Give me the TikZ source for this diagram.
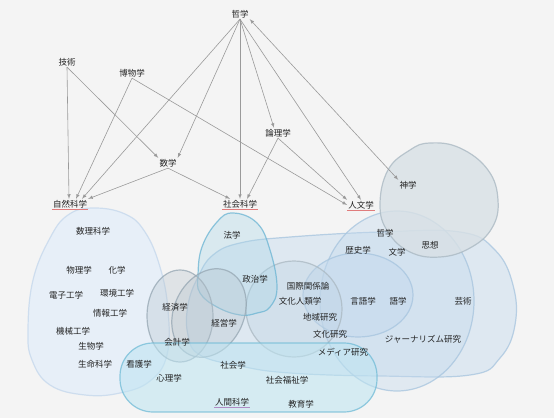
\documentclass[tikz,border=0pt]{standalone}
\usepackage{fontspec}
\setmainfont{Noto Sans CJK JP}

\definecolor{bg}{HTML}{F4F4F4}
\definecolor{txt}{HTML}{222222}
\definecolor{arr}{HTML}{9A9A9A}
\definecolor{ul}{HTML}{E07C7C}
\definecolor{ulp}{HTML}{B08CC4}
\definecolor{natfill}{HTML}{E7EFF8}
\definecolor{natline}{HTML}{C4D7EC}
\definecolor{lawfill}{HTML}{A8D6E8}
\definecolor{lawline}{HTML}{6AB4D3}
\definecolor{ecofill}{HTML}{B8C5CE}
\definecolor{ecoline}{HTML}{95A6B2}
\definecolor{humfill}{HTML}{C4DAEE}
\definecolor{humline}{HTML}{A6C4DE}
\definecolor{thefill}{HTML}{D8E0E5}
\definecolor{theline}{HTML}{A8B7C1}
\definecolor{hsfill}{HTML}{BDE4F1}
\definecolor{hsline}{HTML}{70BBD6}

\tikzset{
  lbl/.style={inner sep=1pt, text=txt, font=\fontsize{8.5}{10}\selectfont},
  edge/.style={->, >=latex, draw=arr, line width=0.6pt},
  blobline/.style={line width=1.2pt, draw opacity=0.75}
}

\begin{document}
\begin{tikzpicture}[x=1pt,y=-1pt]
\useasboundingbox (0,0) rectangle (554,418);
\fill[bg] (0,0) rectangle (554,418);

% regions
\draw[blobline, draw=natline, fill=natfill] plot[smooth cycle, tension=0.7] coordinates
  {(93,208) (125,214) (145,232) (160,267) (168,310) (167,355) (150,381) (120,393)
   (85,395) (50,385) (32,360) (28,330) (33,280) (50,238) (68,215)};
\draw[blobline, draw=humline, fill=humfill, fill opacity=0.45] plot[smooth cycle, tension=0.7] coordinates
  {(198,277) (213,255) (240,243) (290,237) (380,232) (460,232) (495,250) (513,285)
   (515,325) (500,358) (470,375) (380,376) (290,373) (240,366) (200,355) (188,335) (188,305)};
\draw[blobline, draw=humline, fill=humfill, fill opacity=0.4] (397,301) ellipse [x radius=77, y radius=90];
\draw[blobline, draw=humline, fill=humfill, fill opacity=0.5] (358,295) ellipse [x radius=55, y radius=42];
\draw[blobline, draw=ecoline!80, fill=humfill!70!ecofill, fill opacity=0.4] (294,309) ellipse [x radius=48, y radius=48];
\draw[blobline, draw=theline, fill=thefill, fill opacity=0.8] plot[smooth cycle, tension=0.7] coordinates
  {(380,205) (388,170) (410,150) (430,143) (460,148) (488,170) (498,200) (492,228)
   (470,248) (440,257) (410,252) (388,232)};
\draw[blobline, draw=lawline, fill=lawfill, fill opacity=0.35] plot[smooth cycle, tension=0.7] coordinates
  {(233,213) (257,223) (270,250) (277,287) (270,307) (257,313) (240,315) (217,307)
   (200,293) (198,275) (202,247) (217,222)};
\draw[blobline, draw=ecoline, fill=ecofill, fill opacity=0.35] (180,316) ellipse [x radius=33, y radius=46];
\draw[blobline, draw=ecoline, fill=ecofill, fill opacity=0.35, rotate around={-25:(209,313)}] (209,313) ellipse [x radius=35, y radius=46];
\draw[blobline, draw=hsline, fill=hsfill, fill opacity=0.55, rounded corners=33] (120,343) rectangle (377,412);

% graph
\node[lbl] (tetsu) at (240,14) {哲学};
\node[lbl] (gijutsu) at (67,62) {技術};
\node[lbl] (hakubutsu) at (132,73) {博物学};
\node[lbl] (ronri) at (278,133) {論理学};
\node[lbl] (sugaku) at (168,163) {数学};
\node[lbl] (shizen) at (70,204) {自然科学};
\node[lbl] (shakai) at (240,204) {社会科学};
\node[lbl] (jinbun) at (361,205) {人文学};
\node[lbl] (shingaku) at (408,185) {神学};
\draw[ul, line width=0.6pt] (shizen.south west) -- (shizen.south east);
\draw[ul, line width=0.6pt] (shakai.south west) -- (shakai.south east);
\draw[ul, line width=0.6pt] (jinbun.south west) -- (jinbun.south east);

\draw[edge] (gijutsu.south) -- ([xshift=-1pt]shizen.north);
\draw[edge] (gijutsu.south) -- (sugaku.north west);
\draw[edge] (hakubutsu.south) -- ([xshift=6pt]shizen.north);
\draw[edge] (hakubutsu.south) -- (jinbun.west);
\draw[edge] (tetsu.south) -- ([xshift=12pt]shizen.north);
\draw[edge] (tetsu.south) -- (sugaku.north east);
\draw[edge] (tetsu.south) -- (shakai.north);
\draw[edge] (tetsu.south) -- ([xshift=-4pt]ronri.north);
\draw[edge] (tetsu.south) -- (jinbun.north);
\draw[edge, <->] (tetsu.south east) -- (shingaku.north west);
\draw[edge] (sugaku.south) -- (shizen.north east);
\draw[edge] (sugaku.south) -- ([xshift=-10pt]shakai.north);
\draw[edge] (ronri.south) -- ([xshift=7pt]shakai.north);
\draw[edge] (ronri.south) -- (jinbun.north west);

% natural sciences
\node[lbl] (surika) at (93,231) {数理科学};
\node[lbl] (butsuri) at (79,270) {物理学};
\node[lbl] (kagaku) at (117,270) {化学};
\node[lbl] (denshi) at (66,295) {電子工学};
\node[lbl] (kankyo) at (117,293) {環境工学};
\node[lbl] (joho) at (110,313) {情報工学};
\node[lbl] (kikai) at (73,331) {機械工学};
\node[lbl] (seibutsu) at (91,346) {生物学};
\node[lbl] (seimei) at (95,364) {生命科学};
\node[lbl] (kango) at (139,364) {看護学};

% social sciences
\node[lbl] (hogaku) at (232,235) {法学};
\node[lbl] (seiji) at (255,279) {政治学};
\node[lbl] (keizai) at (175,307) {経済学};
\node[lbl] (keiei) at (224,323) {経営学};
\node[lbl] (kaikei) at (177,342) {会計学};
\node[lbl] (shakaigaku) at (233,365) {社会学};
\node[lbl] (shinri) at (169,378) {心理学};
\node[lbl] (fukushi) at (287,380) {社会福祉学};
\node[lbl] (ningen) at (232,402) {人間科学};
\node[lbl] (kyoiku) at (301,404) {教育学};
\draw[ulp, line width=0.6pt] (ningen.south west) -- (ningen.south east);

% humanities
\node[lbl] (tetsu2) at (385,233) {哲学};
\node[lbl] (rekishi) at (358,250) {歴史学};
\node[lbl] (bungaku) at (397,252) {文学};
\node[lbl] (shiso) at (430,245) {思想};
\node[lbl] (kokusai) at (308,286) {国際関係論};
\node[lbl] (jinrui) at (300,301) {文化人類学};
\node[lbl] (gengo) at (363,301) {言語学};
\node[lbl] (gogaku) at (398,301) {語学};
\node[lbl] (geijutsu) at (463,301) {芸術};
\node[lbl] (chiiki) at (320,317) {地域研究};
\node[lbl] (bunka) at (330,334) {文化研究};
\node[lbl] (journal) at (423,339) {ジャーナリズム研究};
\node[lbl] (media) at (343,352) {メディア研究};
\end{tikzpicture}
\end{document}
